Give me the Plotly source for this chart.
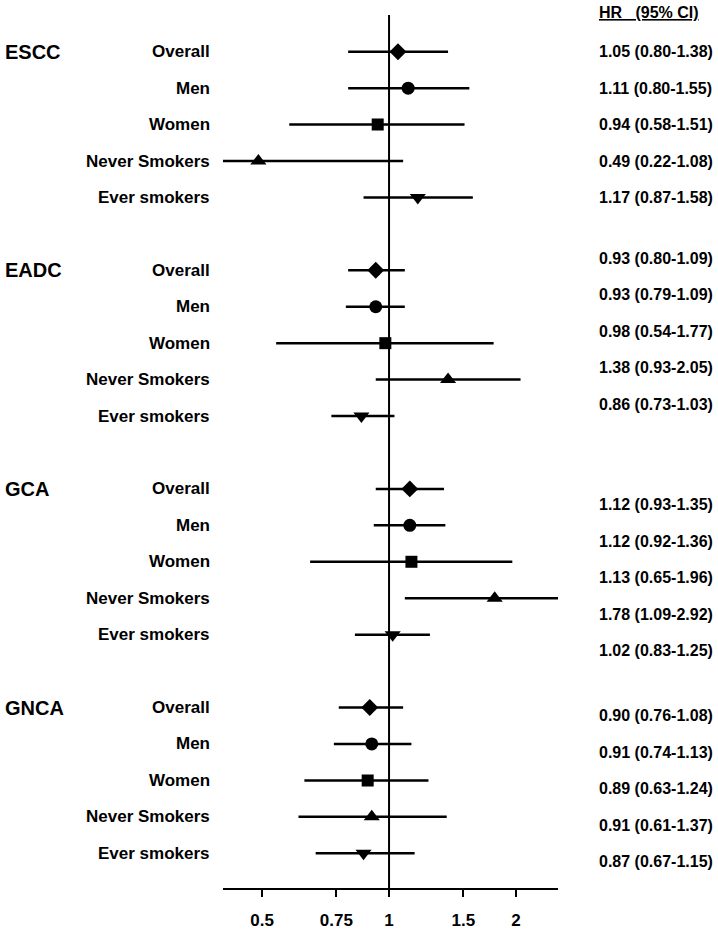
import math
import plotly.graph_objects as go

# Hazard ratios with 95% CI, by cancer type and subgroup
groups = ["ESCC", "EADC", "GCA", "GNCA"]
subgroups = ["Overall", "Men", "Women", "Never Smokers", "Ever smokers"]

escc_hr = [1.05, 1.11, 0.94, 0.49, 1.17]
escc_lo = [0.80, 0.80, 0.58, 0.22, 0.87]
escc_hi = [1.38, 1.55, 1.51, 1.08, 1.58]

eadc_hr = [0.93, 0.93, 0.98, 1.38, 0.86]
eadc_lo = [0.80, 0.79, 0.54, 0.93, 0.73]
eadc_hi = [1.09, 1.09, 1.77, 2.05, 1.03]

gca_hr = [1.12, 1.12, 1.13, 1.78, 1.02]
gca_lo = [0.93, 0.92, 0.65, 1.09, 0.83]
gca_hi = [1.35, 1.36, 1.96, 2.92, 1.25]

gnca_hr = [0.90, 0.91, 0.89, 0.91, 0.87]
gnca_lo = [0.76, 0.74, 0.63, 0.61, 0.67]
gnca_hi = [1.08, 1.13, 1.24, 1.37, 1.15]

tick_vals = [0.5, 0.75, 1, 1.5, 2]
tick_text = ["0.5", "0.75", "1", "1.5", "2"]

symbols = ["diamond", "circle", "square", "triangle-up", "triangle-down"]
marker_sizes = [13, 13, 12, 14, 14]

hr_all = [escc_hr, eadc_hr, gca_hr, gnca_hr]
lo_all = [escc_lo, eadc_lo, gca_lo, gnca_lo]
hi_all = [escc_hi, eadc_hi, gca_hi, gnca_hi]

# the right-hand text column sits a little off the rows in the original
text_shift = [0.0, -0.33, 0.44, 0.23]

W, H = 718, 930
FONT = "Liberation Sans"

fig = go.Figure()
annotations = []

for g, name in enumerate(groups):
    for i, sub in enumerate(subgroups):
        row = g * 6 + i
        hr, lo, hi = hr_all[g][i], lo_all[g][i], hi_all[g][i]
        # CI line
        fig.add_trace(go.Scatter(x=[lo, hi], y=[row, row], mode="lines",
                                 line=dict(color="black", width=2.5),
                                 showlegend=False, hoverinfo="skip"))
        # point estimate
        fig.add_trace(go.Scatter(x=[hr], y=[row], mode="markers",
                                 marker=dict(symbol=symbols[i], size=marker_sizes[i], color="black"),
                                 showlegend=False))
        annotations.append(dict(x=212 / W, xref="paper", y=row, yref="y", text=sub,
                                xanchor="right", yanchor="middle", showarrow=False,
                                font=dict(family=FONT, size=17, color="black", weight="bold")))
        annotations.append(dict(x=597 / W, xref="paper", y=row + text_shift[g], yref="y",
                                text=f"{hr:.2f} ({lo:.2f}-{hi:.2f})",
                                xanchor="left", yanchor="middle", showarrow=False,
                                font=dict(family=FONT, size=16, color="black", weight="bold")))
    annotations.append(dict(x=3 / W, xref="paper", y=g * 6, yref="y", text=name,
                            xanchor="left", yanchor="middle", showarrow=False,
                            font=dict(family=FONT, size=20, color="black", weight="bold")))

annotations.append(dict(x=597 / W, xref="paper", y=1 - 13 / H, yref="paper",
                        text="<u>HR\u00a0\u00a0\u00a0(95% CI)</u>",
                        xanchor="left", yanchor="middle", showarrow=False,
                        font=dict(family=FONT, size=16, color="black", weight="bold")))

# reference line at HR = 1
fig.add_shape(type="line", x0=1, x1=1, xref="x", y0=0, y1=1, yref="y domain",
              line=dict(color="black", width=2))

fig.update_layout(
    width=W, height=H,
    margin=dict(l=0, r=0, t=0, b=0),
    plot_bgcolor="white", paper_bgcolor="white",
    annotations=annotations,
    xaxis=dict(type="log", domain=[223 / W, 558 / W],
               range=[math.log10(0.404), math.log10(2.515)],
               tickvals=tick_vals, ticktext=tick_text,
               ticks="outside", ticklen=7, tickwidth=2, tickcolor="black",
               showline=True, linewidth=2, linecolor="black",
               showgrid=False, zeroline=False, ticklabelstandoff=8,
               tickfont=dict(family=FONT, size=17, color="black", weight="bold")),
    yaxis=dict(range=[22.96, -1.01], domain=[(H - 894) / H, (H - 15) / H],
               visible=False, showgrid=False, zeroline=False),
)

# page body margin would push the fixed-size figure past the window
fig.write_html("out.html", config={"displayModeBar": False},
               post_script="document.body.style.margin='0';")
